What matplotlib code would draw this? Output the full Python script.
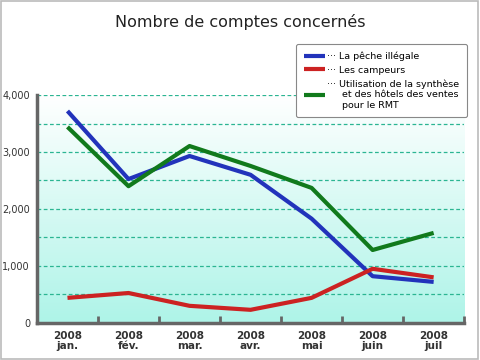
import matplotlib
matplotlib.use("Agg")
import matplotlib.pyplot as plt
import numpy as np
from matplotlib.colors import LinearSegmentedColormap
from matplotlib.patches import Rectangle

months = ["jan.", "fév.", "mar.", "avr.", "mai", "juin", "juil"]
year = "2008"
peche = [3720, 2525, 2930, 2600, 1830, 820, 720]
campeurs = [440, 525, 300, 230, 440, 950, 800]
synthese = [3440, 2400, 3105, 2755, 2370, 1280, 1580]
labels = ["La pêche illégale", "Les campeurs",
          "Utilisation de la synthèse\net des hôtels des ventes\npour le RMT"]
colors = ["#2233bb", "#cc2222", "#117a1c"]

plt.rcParams['font.family'] = ['DejaVu Sans']

fig = plt.figure(figsize=(4.8, 3.6), dpi=100)
fig.patches.append(Rectangle((0.002, 0.003), 0.994, 0.994, transform=fig.transFigure,
                             fill=False, edgecolor="#bbbbbb", linewidth=1.2))
ax = fig.add_axes([0.077, 0.103, 0.890, 0.633])

# gradient background
cmap = LinearSegmentedColormap.from_list("bg", ["#ffffff", "#aef4e8"])
grad = np.linspace(0, 1, 256).reshape(-1, 1)
ax.imshow(grad, extent=[0, 7, 0, 4000], aspect="auto", cmap=cmap, origin="upper", zorder=0)

for v in np.arange(500, 4001, 500):
    ax.axhline(v, color="#2bb592", linestyle=(0, (3, 2)), linewidth=0.9, zorder=1)

x = np.arange(len(months)) + 0.5
handles = []
for series, c, lab in zip([peche, campeurs, synthese], colors, labels):
    h, = ax.plot(x, series, color=c, linewidth=3.0, label=lab, zorder=3, solid_capstyle="butt")
    handles.append(h)

ax.set_xlim(0, 7)
ax.set_ylim(0, 4000)
ax.set_xticks(np.arange(0, 8))
ax.set_xticklabels([])
ax.set_xticks(x, minor=True)
ax.set_xticklabels([year + "\n" + m for m in months], minor=True,
                   fontsize=7.5, fontweight="bold", color="#333333", linespacing=1.0)
ax.tick_params(axis="x", which="major", direction="in", length=5, width=2, color="#666666")
ax.tick_params(axis="x", which="minor", length=0, pad=6)
ax.set_yticks([0, 1000, 2000, 3000, 4000])
ax.set_yticklabels(["0", "1,000", "2,000", "3,000", "4,000"], fontsize=7, color="#333333")
ax.tick_params(axis="y", length=0, pad=5)

for s in ["top", "right"]:
    ax.spines[s].set_visible(False)
for s in ["left", "bottom"]:
    ax.spines[s].set_color("#666666")
    ax.spines[s].set_linewidth(2.5)

fig.suptitle("Nombre de comptes concernés", x=0.5, y=0.96, fontsize=11.5, color="#222222")

leg_labels = ["··· " + labels[0], "··· " + labels[1],
              "··· Utilisation de la synthèse\n     et des hôtels des ventes\n     pour le RMT"]
leg = fig.legend(handles, leg_labels,
                 loc="upper right", bbox_to_anchor=(0.973, 0.878), borderaxespad=0,
                 fontsize=6.8, handlelength=2.3, handletextpad=0.2, labelspacing=0.5,
                 frameon=True, fancybox=True, edgecolor="#888888", borderpad=0.8,
                 framealpha=1)
leg.get_frame().set_linewidth(0.8)

fig.savefig("out.png", dpi=100)
